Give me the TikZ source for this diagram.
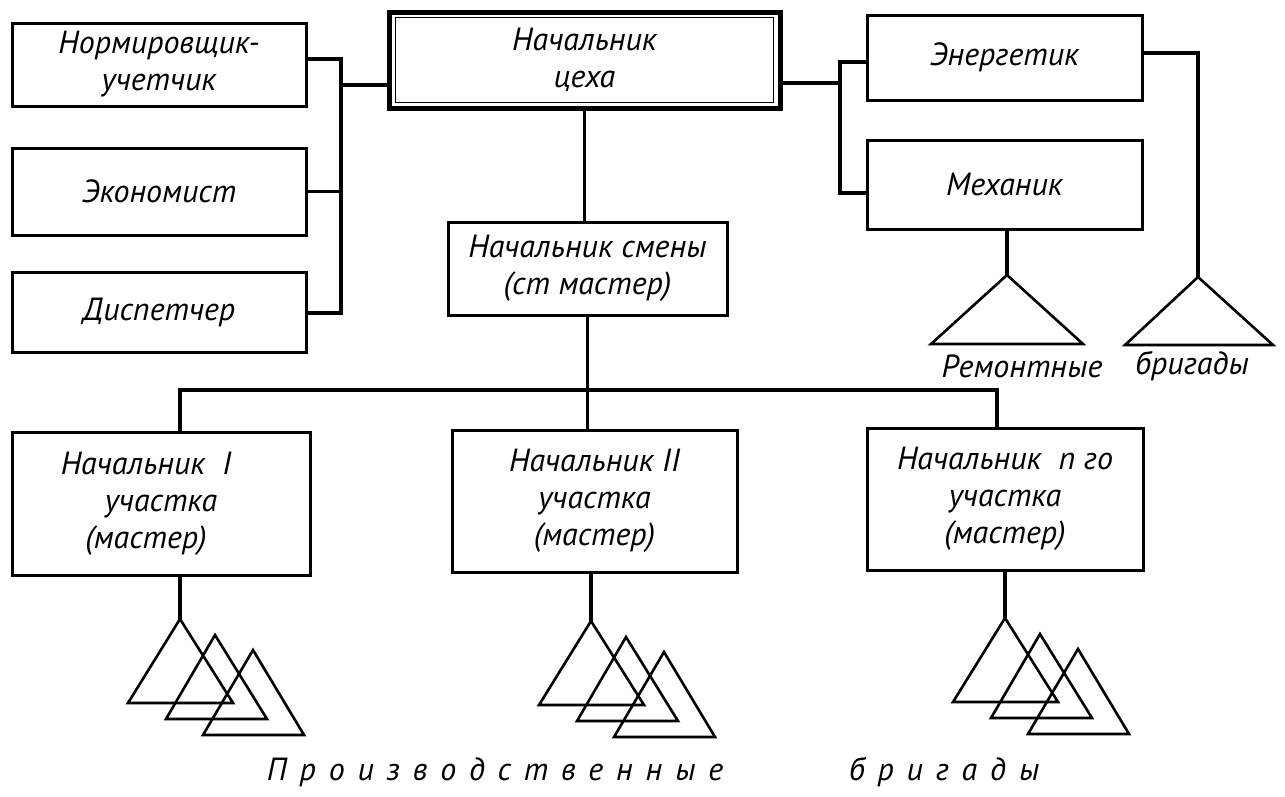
\documentclass[tikz,border=0pt]{standalone}
\usepackage{fontspec}
\setmainfont{PT Sans}
\newcommand\boxfont{\itshape\fontsize{32}{37}\selectfont}
\newcommand\capfont{\itshape\fontsize{32}{37}\selectfont}
\begin{document}
\begin{tikzpicture}[x=1pt,y=-1pt,
  box/.style={draw, line width=3pt, rectangle, inner sep=0pt, align=center, font=\boxfont},
  link/.style={line width=3.4pt, line join=miter},
  tri/.style={line width=2.6pt, line join=miter},
  caption/.style={inner sep=0pt, font=\boxfont},
]
\useasboundingbox[fill=white] (0,0) rectangle (1285,796);

% staff on the left
\node[box, minimum width=294pt, minimum height=83pt] (norm) at (159,64.5) {Нормировщик-\\учетчик};
\node[box, minimum width=294pt, minimum height=87pt] (econ) at (159,191.5) {Экономист};
\node[box, minimum width=294pt, minimum height=80pt] (disp) at (159,312) {Диспетчер};

% shop head with a double frame
\node[box, line width=5pt, minimum width=391pt, minimum height=96pt] (chief) at (584.5,60) {Начальник\\цеха};
\draw[line width=1.8pt] ([shift={(9,8)}]chief.north west) rectangle ([shift={(-9,-8)}]chief.south east);

% shift head
\node[box, minimum width=279pt, minimum height=93pt] (smena) at (587.5,268.5) {Начальник смены\\(ст мастер)};

% power and mechanical staff
\node[box, minimum width=275pt, minimum height=85pt] (energ) at (1004.5,57.5) {Энергетик};
\node[box, minimum width=275pt, minimum height=89pt] (mech) at (1004.5,184.5) {Механик};

% section heads
\node[box, minimum width=298pt, minimum height=143pt] (uch1) at (161,503.5)
  {Начальник\ \ I\hspace*{30pt}\\участка\hspace*{30pt}\\(мастер)\hspace*{30pt}};
\node[box, minimum width=285pt, minimum height=142pt] (uch2) at (594.5,501) {Начальник II\\участка\\(мастер)};
\node[box, minimum width=276pt, minimum height=142pt] (uchn) at (1005,499) {Начальник\ \ n го\\участка\\(мастер)};

% left bus
\coordinate (lb1) at (341,59);
\coordinate (lb3) at (341,313);
\coordinate (lj) at (341,85);
\draw[link] (norm.east |- lb1) -- (lb1) -- (lb3) -- (disp.east |- lb3);
\draw[link] (econ.east) -- (econ.east -| lb1);
\draw[link] (lj) -- (lj -| chief.west);

% right bus
\coordinate (rj) at (840,83);
\coordinate (rb1) at (840,62);
\coordinate (rb2) at (840,193);
\draw[link] (chief.east |- rj) -- (rj);
\draw[link] (energ.west |- rb1) -- (rb1) -- (rb2) -- (mech.west |- rb2);

% repair crews
\coordinate (ma) at (1007,275);
\coordinate (ea) at (1198,277);
\coordinate (ec) at (1198,53);
\draw[link] (mech.south -| ma) -- (ma);
\draw[link] (energ.east |- ec) -- (ec) -- (ea);
\draw[tri] (ma) -- ++(-76,69) -- ++(152,0) -- cycle;
\draw[tri] (ea) -- ++(-73,68) -- ++(148,0) -- cycle;
\node[caption] (rem) at (1022,366) {Ремонтные};
\node[caption] (rbr) at (1192,366) {бригады};

% vertical chain and lower bus
\coordinate (bb1) at (180,390);
\coordinate (bb3) at (997,390);
\draw[link] (chief.south) -- (chief.south |- smena.north);
\draw[link] (smena.south) -- (smena.south |- bb1);
\draw[link] (bb1 |- uch1.north) -- (bb1) -- (bb3) -- (bb3 |- uchn.north);
\draw[link] (smena.south |- bb1) -- (smena.south |- uch2.north);

% production crews
\coordinate (a1) at (180,619);
\coordinate (a2) at (591,621);
\coordinate (a3) at (1005,618);
\draw[link] (uch1.south -| a1) -- (a1);
\draw[link] (uch2.south -| a2) -- (a2);
\draw[link] (uchn.south -| a3) -- (a3);
\foreach \a in {a1,a2,a3}{
  \begin{scope}[shift={(\a)}]
    \draw[tri] (0,0) -- (-52,84) -- (53,84) -- cycle;
    \draw[tri] (35,16) -- (-14,100) -- (87,100) -- cycle;
    \draw[tri] (73,31) -- (23,116) -- (124,116) -- cycle;
  \end{scope}
}

\node[caption, font=\capfont\addfontfeature{LetterSpace=40}] (prod) at (495,772) {Производственные};
\node[caption, font=\capfont\addfontfeature{LetterSpace=40}] (brig) at (944,772) {бригады};
\end{tikzpicture}
\end{document}
